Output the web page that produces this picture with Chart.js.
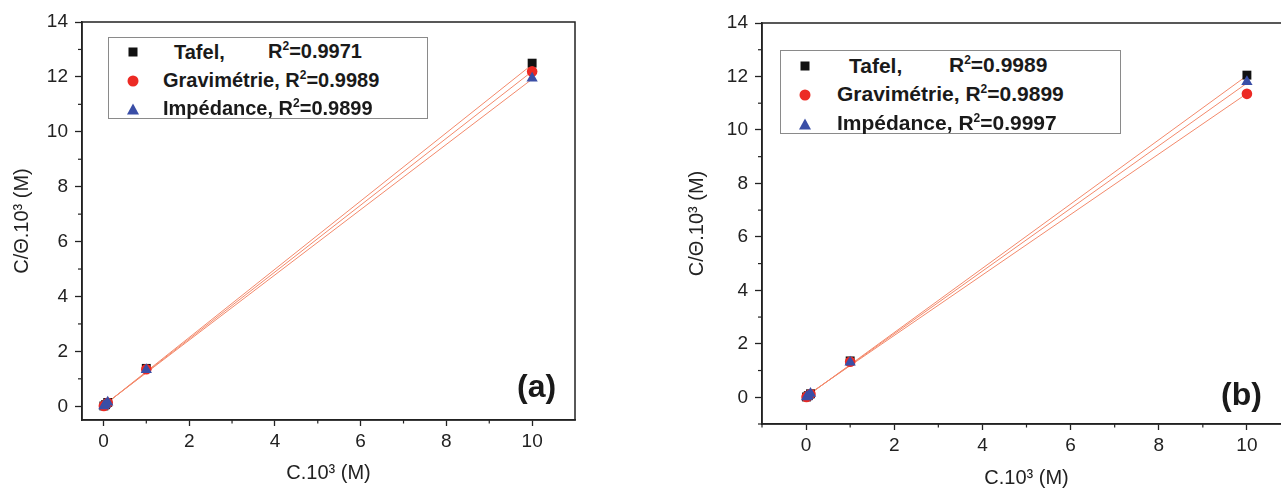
<!DOCTYPE html>
<html>
<head>
<meta charset="utf-8">
<script src="https://cdn.jsdelivr.net/npm/chart.js@4.4.1/dist/chart.umd.min.js"></script>
<style>
  html, body { margin:0; padding:0; background:#fff; width:1281px; height:491px; overflow:hidden; position:relative; font-family:"Liberation Sans", Arial, sans-serif; }
  canvas { position:absolute; top:0; }
  .legend { position:absolute; border:1.5px solid #8a8a8a; background:#fff; box-sizing:border-box; }
  .legend .t { position:absolute; font-weight:bold; color:#1a1a1a; white-space:nowrap; line-height:22px; transform:translateY(-50%); }
  .legend sup { font-size:12px; vertical-align:0; position:relative; top:-8px; }
  .mk { position:absolute; transform:translate(-50%,-50%); }
  .sq { width:9px; height:9px; background:#111; }
  .ci { width:11px; height:11px; border-radius:50%; background:#ec2a24; }
  .tr { width:0; height:0; border-left:6.5px solid transparent; border-right:6.5px solid transparent; border-bottom:11px solid #3a4ea6; }
  .panel { position:absolute; font-weight:bold; font-size:32px; color:#1a1a1a; line-height:36px; transform:translateY(-50%); }
</style>
</head>
<body>
<canvas id="ca" width="620" height="491" style="left:0px"></canvas>
<canvas id="cb" width="660" height="491" style="left:640px"></canvas>

<div class="legend" style="left:108px; top:37px; width:320px; height:82px; font-size:20px;">
  <div class="mk sq" style="left:24px; top:14px;"></div>
  <div class="t" style="left:65px; top:14px;">Tafel,</div>
  <div class="t" style="left:159px; top:14px;">R<sup>2</sup>=0.9971</div>
  <div class="mk ci" style="left:24px; top:43px;"></div>
  <div class="t" style="left:54px; top:43px;">Gravimétrie, R<sup>2</sup>=0.9989</div>
  <div class="mk tr" style="left:24px; top:71px;"></div>
  <div class="t" style="left:54px; top:71px;">Impédance, R<sup>2</sup>=0.9899</div>
</div>

<div class="legend" style="left:780px; top:50px; width:341px; height:84px; font-size:21px;">
  <div class="mk sq" style="left:24px; top:15px;"></div>
  <div class="t" style="left:68px; top:15px;">Tafel,</div>
  <div class="t" style="left:168px; top:15px;">R<sup>2</sup>=0.9989</div>
  <div class="mk ci" style="left:24px; top:44px;"></div>
  <div class="t" style="left:56px; top:44px;">Gravimétrie, R<sup>2</sup>=0.9899</div>
  <div class="mk tr" style="left:24px; top:73px;"></div>
  <div class="t" style="left:56px; top:73px;">Impédance, R<sup>2</sup>=0.9997</div>
</div>

<div class="panel" style="left:517px; top:386px;">(a)</div>
<div class="panel" style="left:1221px; top:394px;">(b)</div>

<script>
// ---------- data ----------
const concentrations = [0.01, 0.05, 0.1, 1, 10];   // C.10^3 (M)

// panel (a)
const tafelA = [0.012, 0.06, 0.14, 1.38, 12.5];
const gravA  = [0.012, 0.058, 0.13, 1.35, 12.2];
const impA   = [0.013, 0.062, 0.15, 1.33, 11.95];
const fitX   = [0, 10];
const fitTafelA = [0.02, 12.45];
const fitGravA  = [0.02, 12.2];
const fitImpA   = [0.03, 11.92];

// panel (b)
const tafelB = [0.012, 0.06, 0.13, 1.36, 12.05];
const gravB  = [0.011, 0.057, 0.12, 1.33, 11.35];
const impB   = [0.012, 0.06, 0.14, 1.31, 11.8];
const fitTafelB = [0.02, 12.03];
const fitGravB  = [0.05, 11.36];
const fitImpB   = [0.03, 11.75];

// ticks
const xMajor = [0, 2, 4, 6, 8, 10];
const xMinorA = [1, 3, 5, 7, 9];
const xMinorB = [-1, 1, 3, 5, 7, 9];
const yMajor = [0, 2, 4, 6, 8, 10, 12, 14];
const yMinorA = [1, 3, 5, 7, 9, 11, 13];
const yMinorB = [-1, 1, 3, 5, 7, 9, 11, 13];

const xTitle = 'C.10³ (M)';
const yTitle = 'C/Θ.10³ (M)';

// ---------- drawing ----------
const FONT = '"Liberation Sans", Arial, sans-serif';
const AXIS = '#222';
const FITC = '#f3896b';

const pts = (xs, ys) => xs.map((x, i) => ({x, y: ys[i]}));

const framePlugin = {
  id: 'frame',
  afterDraw(chart, args, opts) {
    const {ctx, chartArea: {left, right, top, bottom}, scales: {x, y}} = chart;
    ctx.save();
    ctx.strokeStyle = AXIS;
    ctx.lineWidth = 1.5;
    ctx.strokeRect(left, top, right - left, bottom - top);
    ctx.lineWidth = 1.2;
    opts.xMinor.forEach(v => {
      const px = x.getPixelForValue(v);
      ctx.beginPath(); ctx.moveTo(px, bottom); ctx.lineTo(px, bottom + 3.5); ctx.stroke();
    });
    opts.yMinor.forEach(v => {
      const py = y.getPixelForValue(v);
      ctx.beginPath(); ctx.moveTo(left, py); ctx.lineTo(left - 4, py); ctx.stroke();
    });
    ctx.restore();
  }
};

function makeChart(id, cfg) {
  const datasets = [
    {type:'scatter', label:'Impédance', data: pts(concentrations, cfg.imp), pointStyle:'triangle', pointRadius:6.5, backgroundColor:'#3a4ea6', borderColor:'#3a4ea6', borderWidth:0, order:1},
    {type:'scatter', label:'Gravimétrie', data: pts(concentrations, cfg.grav), pointStyle:'circle', pointRadius:5.3, backgroundColor:'#ec2a24', borderColor:'#ec2a24', borderWidth:0, order:2},
    {type:'scatter', label:'Tafel', data: pts(concentrations, cfg.tafel), pointStyle:'rect', pointRadius:6.3, backgroundColor:'#111', borderColor:'#111', borderWidth:0, order:3},
    {type:'line', label:'fit Tafel', data: pts(fitX, cfg.fitTafel), borderColor:FITC, borderWidth:1, pointRadius:0, fill:false, order:10},
    {type:'line', label:'fit Grav', data: pts(fitX, cfg.fitGrav), borderColor:FITC, borderWidth:1, pointRadius:0, fill:false, order:10},
    {type:'line', label:'fit Imp', data: pts(fitX, cfg.fitImp), borderColor:FITC, borderWidth:1, pointRadius:0, fill:false, order:10},
  ];
  return new Chart(document.getElementById(id), {
    data: {datasets},
    options: {
      responsive: false,
      animation: false,
      devicePixelRatio: 1,
      layout: {padding: {left: 0, right: cfg.padRight, top: cfg.padTop, bottom: 0}},
      plugins: {legend: {display: false}, tooltip: {enabled: false}, frame: {xMinor: cfg.xMinor, yMinor: cfg.yMinor}},
      scales: {
        x: {
          type: 'linear', min: cfg.xMin, max: 11,
          afterBuildTicks: s => { s.ticks = xMajor.map(v => ({value: v})); },
          afterFit: s => { s.height = cfg.xHeight; },
          ticks: {color: AXIS, font: {family: FONT, size: 19}, padding: 4, maxRotation: 0, autoSkip: false},
          grid: {drawOnChartArea: false, drawTicks: true, tickLength: 6, tickColor: AXIS, tickWidth: 1.3},
          border: {display: true, color: AXIS, width: 1.5},
          title: {display: true, text: xTitle, color: AXIS, font: {family: FONT, size: 20}, padding: {top: 0, bottom: cfg.xTitlePad}}
        },
        y: {
          type: 'linear', min: cfg.yMin, max: 14,
          afterBuildTicks: s => { s.ticks = yMajor.map(v => ({value: v})); },
          afterFit: s => { s.width = cfg.yWidth; },
          ticks: {color: AXIS, font: {family: FONT, size: 19}, padding: 7, autoSkip: false},
          grid: {drawOnChartArea: false, drawTicks: true, tickLength: 7, tickColor: AXIS, tickWidth: 1.3},
          border: {display: true, color: AXIS, width: 1.5},
          title: {display: true, text: yTitle, color: AXIS, font: {family: FONT, size: 20}, padding: {top: cfg.yTitlePad, bottom: 0}}
        }
      }
    },
    plugins: [framePlugin]
  });
}

makeChart('ca', {
  tafel: tafelA, grav: gravA, imp: impA,
  fitTafel: fitTafelA, fitGrav: fitGravA, fitImp: fitImpA,
  xMin: -0.5, yMin: -0.5, xMinor: xMinorA, yMinor: yMinorA,
  padRight: 45, padTop: 22, xHeight: 71, yWidth: 82, xTitlePad: 6, yTitlePad: 10
});
makeChart('cb', {
  tafel: tafelB, grav: gravB, imp: impB,
  fitTafel: fitTafelB, fitGrav: fitGravB, fitImp: fitImpB,
  xMin: -1, yMin: -1, xMinor: xMinorB, yMinor: yMinorB,
  padRight: 9, padTop: 23, xHeight: 67, yWidth: 122, xTitlePad: 1, yTitlePad: 45
});
</script>
</body>
</html>
